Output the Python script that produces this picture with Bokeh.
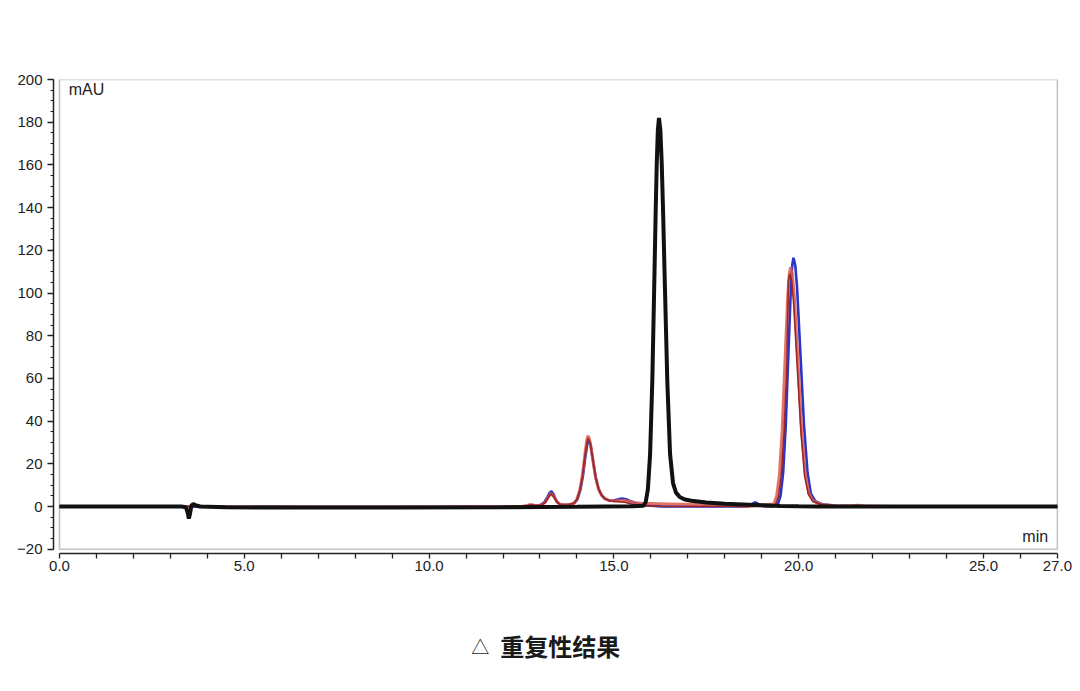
from bokeh.plotting import figure
from bokeh.models import FixedTicker, BoxAnnotation, Label, Range1d
from bokeh.layouts import column
from bokeh.core.properties import value
from bokeh.embed import file_html
from bokeh.resources import INLINE

# ---------------- data ----------------
black_t = [0, 3.3, 3.42, 3.47, 3.5, 3.53, 3.57, 3.62, 3.68, 3.8, 4.5, 6, 9, 12, 14, 15.5,
           15.80, 15.86, 15.92, 15.98, 16.04, 16.10, 16.13, 16.16, 16.19, 16.22,
           16.2575, 16.295, 16.3325, 16.37, 16.445, 16.52, 16.6, 16.68, 16.78, 16.92,
           17.1, 17.5, 18.0, 18.5, 19.0, 19.5, 20.0, 20.5, 24, 27]
black_v = [0, 0, -0.3, -3, -5.6, -3.5, 0.5, 1.2, 0.6, 0, -0.3, -0.5, -0.5, -0.3, -0.1, 0.1,
           0.4, 2, 8, 24.6, 59, 110.4, 137.5, 160.6, 176.4, 182,
           176.4, 160.6, 137.5, 110.4, 59, 24.6, 11, 6.5, 4.5, 3.3,
           2.7, 1.9, 1.3, 1.0, 0.6, 0.3, 0.1, 0, 0, 0]

red1_t = [0, 3.55, 3.65, 3.75, 3.9, 8, 12.5, 12.65, 12.75, 12.85, 12.95, 13.05, 13.15, 13.22,
          13.3, 13.38, 13.46, 13.55, 13.65, 13.8, 13.92, 14.0, 14.08, 14.15, 14.22, 14.26, 14.29,
          14.325, 14.36, 14.43, 14.5, 14.58, 14.66, 14.75, 14.85, 15.0, 15.15, 15.3, 15.45, 15.6,
          15.75, 16.5, 17.5, 18.45, 18.55, 19.33, 19.405, 19.48, 19.555, 19.63, 19.705, 19.7425,
          19.78, 19.83, 19.88, 19.98, 20.08, 20.18, 20.28, 20.4, 20.6, 21.0, 21.4, 21.6, 21.8,
          22.5, 27]
red1_v = [0, 0, 0.8, 0.3, 0, -0.2, 0, 0.5, 1.0, 0.6, 0.4, 0.8, 2.2, 4.3,
          6.3, 4.6, 2.2, 1.0, 0.8, 0.9, 1.6, 3.5, 8, 15, 25, 30.5, 33,
          32.5, 30, 22, 14, 8.5, 5.5, 3.8, 3.0, 2.6, 2.8, 2.8, 2.3, 1.8,
          1.5, 1.2, 0.8, 0.4, 0, 1.2, 5, 15, 36, 68, 99, 108.6,
          112, 108.6, 99, 68, 36, 15, 6, 2.5, 1, 0.4, 0.3, 0.6, 0.3,
          0, 0]

red2_t = [0, 3.6, 3.7, 3.85, 8, 12.6, 12.75, 12.9, 13.05, 13.15, 13.22, 13.3, 13.38, 13.46,
          13.55, 13.7, 13.9, 14.0, 14.08, 14.15, 14.22, 14.3, 14.37, 14.44, 14.51, 14.59,
          14.67, 14.76, 14.9, 15.1, 15.3, 15.5, 15.7, 16.5, 19.3, 19.38, 19.455, 19.53,
          19.605, 19.68, 19.7225, 19.76, 19.81, 19.86, 19.96, 20.06, 20.16, 20.26, 20.38,
          20.6, 21.0, 22.0, 27]
red2_v = [0, 0, 0.6, 0, -0.2, 0, 0.8, 0.4, 0.7, 2.0, 4.0, 6.0, 4.3, 2.0,
          0.9, 0.6, 1.4, 3.2, 7.5, 14, 24, 32,
          29, 21, 13.5, 8, 5.2, 3.6, 2.6, 2.3, 2.0, 1.0, 0.3, 0, 0, 1.1, 4.8, 14.5,
          35, 66, 105.7, 109, 105.7, 96, 66, 35, 14.5, 5.8, 2.4,
          0.9, 0.3, 0, 0]

blue_t = [0, 8, 12.6, 12.8, 13.0, 13.12, 13.2, 13.26, 13.31, 13.37, 13.44, 13.52, 13.62,
          13.8, 13.93, 14.01, 14.09, 14.16, 14.23, 14.3, 14.37, 14.44, 14.51, 14.59, 14.67,
          14.76, 14.88, 15.0, 15.1, 15.22, 15.33, 15.45, 15.6, 15.8, 16.3, 18.6, 18.72, 18.83,
          18.93, 19.05, 19.3, 19.44, 19.51, 19.58, 19.65, 19.72, 19.79, 19.825, 19.86, 19.9075,
          19.955, 20.05, 20.145, 20.24, 20.33, 20.45, 20.65, 21.0, 22.0, 27]
blue_v = [0, -0.2, 0, 0.6, 0.6, 2.0, 4.4, 6.4, 7.2, 5.6, 2.8, 1.2, 0.8,
          0.8, 1.5, 3.3, 7.5, 14, 23.5, 31.5, 29, 21, 13.5, 8, 5.2,
          3.6, 2.8, 2.8, 3.3, 3.8, 3.4, 2.5, 1.5, 0.6, 0, 0, 1.0, 2.0,
          1.0, 0.2, 0, 1.3, 5.1, 15.8, 37.8, 70.7, 103, 113, 116.5, 113,
          103, 70.7, 37.8, 15.8, 6, 2.5, 1, 0.3, 0, 0]

y_ticks = [-20, 0, 20, 40, 60, 80, 100, 120, 140, 160, 180, 200]
y_minor = [v for v in range(-20, 201, 5)]
x_ticks = list(range(0, 28))
x_labels = {0: "0.0", 5: "5.0", 10: "10.0", 15: "15.0", 20: "20.0", 25: "25.0", 27: "27.0"}

y_unit = "mAU"
x_unit = "min"
caption_mark = ["△"]
caption_text = ["重复性结果"]

# ---------------- main chart ----------------
FONT = "Liberation Sans"
p = figure(width=1080, height=600, output_backend="svg", toolbar_location=None,
           x_range=Range1d(-0.162, 27.03), y_range=Range1d(-22.0, 200.0),
           min_border_left=53, min_border_right=22, min_border_top=79, min_border_bottom=47)
p.outline_line_color = None
p.xgrid.visible = False
p.ygrid.visible = False
p.background_fill_color = "white"
p.border_fill_color = "white"

for ax in (p.xaxis[0], p.yaxis[0]):
    ax.axis_line_color = "#222222"
    ax.axis_line_width = 1.5
    ax.major_tick_line_color = "#222222"
    ax.minor_tick_line_color = "#222222"
    ax.major_tick_line_width = 1.3
    ax.minor_tick_line_width = 1.1
    ax.major_tick_in = 0
    ax.minor_tick_in = 0
    ax.major_label_text_font = FONT
    ax.major_label_text_font_size = "15px"
    ax.major_label_text_color = "#222222"

p.yaxis.ticker = FixedTicker(ticks=y_ticks, minor_ticks=y_minor)
p.yaxis.bounds = (-20, 200)
p.yaxis.major_tick_out = 6
p.yaxis.minor_tick_out = 3
p.yaxis.major_label_standoff = 5

p.xaxis.ticker = FixedTicker(ticks=x_ticks, minor_ticks=[])
p.xaxis.bounds = (0, 27)
p.xaxis.major_tick_out = 5
p.xaxis.major_label_standoff = 2
p.xaxis.major_label_overrides = {t: x_labels.get(t, "") for t in x_ticks}

frame = BoxAnnotation(left=0, right=27, bottom=-20, top=200, fill_alpha=0,
                      line_color="#333333", line_width=1.6)
p.add_layout(frame)

p.line(blue_t, blue_v, line_color="#2a34c8", line_width=2.6)
p.line(red1_t, red1_v, line_color="#dd5a4c", line_width=3.0, line_alpha=0.85)
p.line(red2_t, red2_v, line_color="#9a2828", line_width=1.6)
p.line(black_t, black_v, line_color="#111111", line_width=4)

p.add_layout(Label(x=0.25, y=195.5, text=y_unit, text_font=FONT, text_font_size="16px",
                   text_color="#222222", text_baseline="middle", text_align="left"))
p.add_layout(Label(x=26.75, y=-14, text=x_unit, text_font=FONT, text_font_size="16px",
                   text_color="#222222", text_baseline="middle", text_align="right"))

# ---------------- caption strip ----------------
c = figure(width=1080, height=91, output_backend="svg", toolbar_location=None,
           x_axis_type=None, y_axis_type=None,
           x_range=Range1d(0, 1080), y_range=Range1d(0, 91),
           min_border=0, min_border_left=0, min_border_right=0,
           min_border_top=0, min_border_bottom=0)
c.grid.visible = False
c.outline_line_color = None
c.background_fill_color = "white"
c.border_fill_color = "white"
c.text(x=[449], y=[46], text=caption_mark, text_font=value("Noto Sans CJK SC"),
       text_font_size="18px", text_font_style="normal", text_color="#1a1a1a",
       text_align="left", text_baseline="middle")
c.text(x=[480], y=[46], text=caption_text, text_font=value("Noto Sans CJK SC"),
       text_font_size="24px", text_font_style="bold", text_color="#1a1a1a",
       text_align="left", text_baseline="middle")

open("out.html", "w").write(file_html(column(p, c), INLINE))
